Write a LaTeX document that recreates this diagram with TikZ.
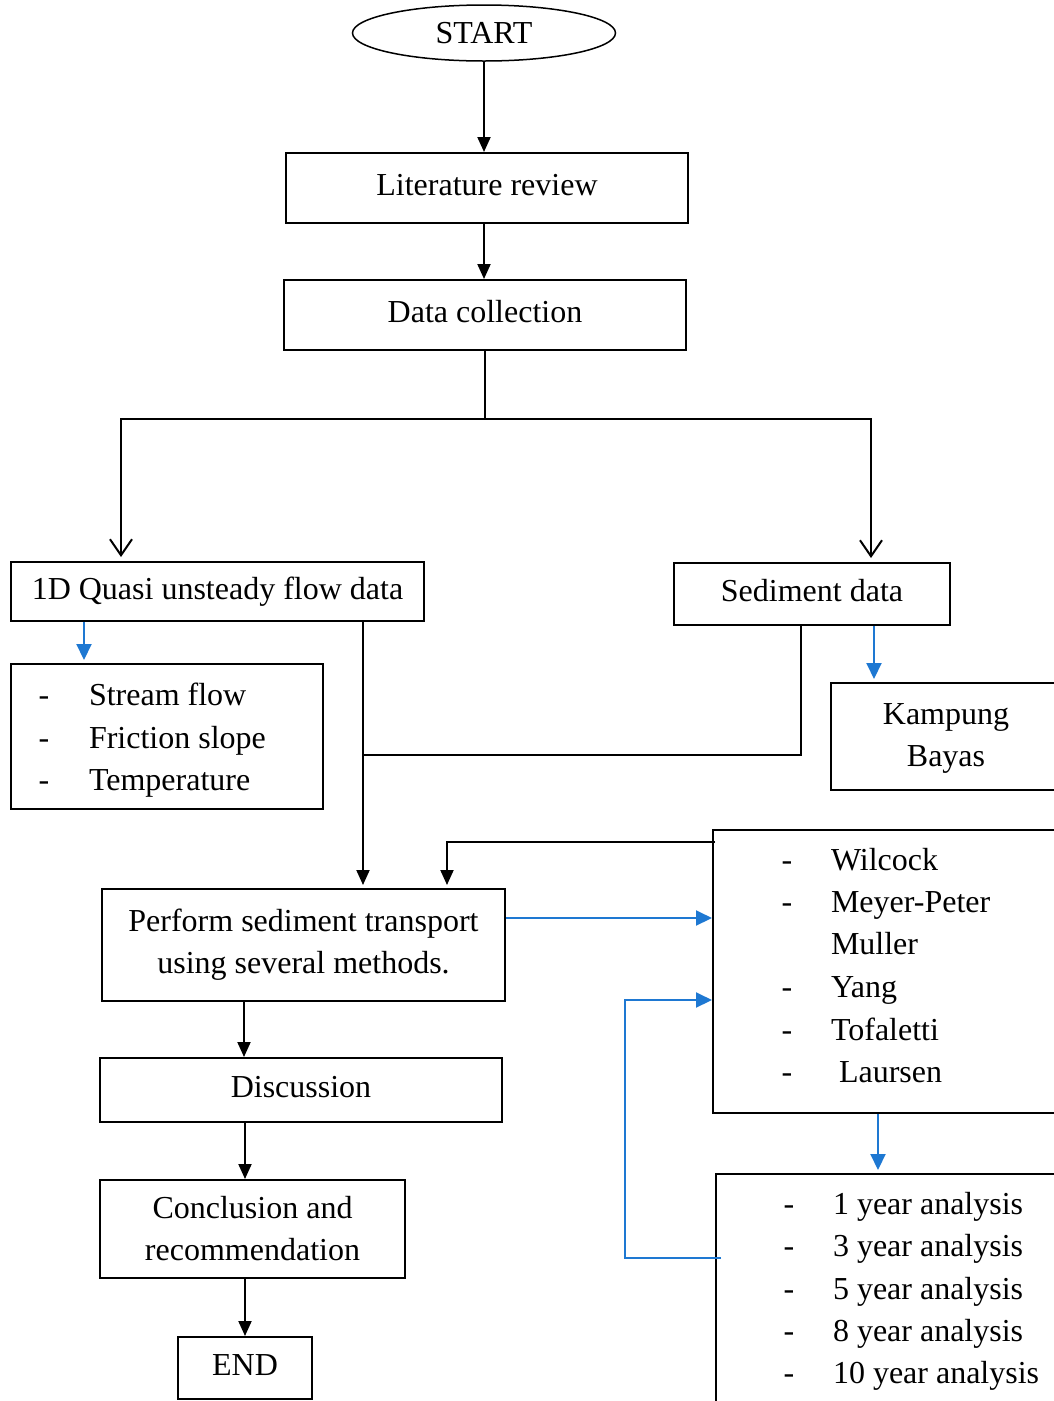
\documentclass[tikz,border=0pt]{standalone}
\usepackage{fontspec}
\setmainfont{Liberation Serif}
\usetikzlibrary{arrows.meta,shapes.geometric}
\definecolor{flowblue}{RGB}{30,120,210}

\begin{document}
\begin{tikzpicture}[x=1pt, y=-1pt, line width=2pt,
        font=\fontsize{32}{42}\selectfont,
        box/.style={draw, rectangle, inner sep=0pt, align=center},
        onerow/.style={text height=22pt, text depth=7pt},
        item/.style={anchor=base west, inner sep=0pt},
        hyph/.style={anchor=base, inner sep=0pt},
        blk/.style={-{Triangle[length=15pt,width=13pt]}},
        blu/.style={flowblue, -{Triangle[length=16pt,width=15pt]}},
        opn/.style={-{Straight Barb[length=16pt,width=22pt]}, shorten >=4pt}]
    \useasboundingbox (0,0) rectangle (1054,1401);
    \clip (0,0) rectangle (1054,1401);

    \node[draw, ellipse, inner sep=0pt, line width=1.5pt, minimum width=263pt, minimum height=56pt] (start) at (484,33) {START};
    \node[box, onerow, minimum width=402pt, minimum height=70pt] (litrev) at (487,188) {Literature review};
    \node[box, onerow, minimum width=402pt, minimum height=70pt] (datacol) at (485,315) {Data collection};
    \node[box, onerow, minimum width=413pt, minimum height=59pt] (quasi) at (217.5,591.5) {1D Quasi unsteady flow data};
    \node[box, onerow, minimum width=276pt, minimum height=62pt] (sediment) at (812,594) {Sediment data};

    \node[box, minimum width=312pt, minimum height=145pt] (params) at (167,736.5) {};
    \node[hyph] at (44,705) {-};
    \node[hyph] at (44,748) {-};
    \node[hyph] at (44,790) {-};
    \node[item] (flow) at (88,705) {Stream flow};
    \node[item] (slope) at (88,748) {Friction slope};
    \node[item] (temp) at (88,790) {Temperature};

    \node[box, minimum width=249pt, minimum height=107pt] (kampung) at (955.5,736.5) {};
    \node[inner sep=0pt, align=center] (site) at (946,738) {Kampung\\Bayas};

    \node[box, minimum width=367pt, minimum height=283pt] (methods) at (896.5,971.5) {};
    \node[hyph] at (787,870) {-};
    \node[hyph] at (787,912) {-};
    \node[hyph] at (787,997) {-};
    \node[hyph] at (787,1040) {-};
    \node[hyph] at (787,1082) {-};
    \node[item] (wil) at (830,870) {Wilcock};
    \node[item] (mpm) at (830,912) {Meyer-Peter};
    \node[item] (mul) at (830,954) {Muller};
    \node[item] (yang) at (830,997) {Yang};
    \node[item] (tof) at (830,1040) {Tofaletti};
    \node[item] (lau) at (838,1082) {Laursen};

    \node[box, minimum width=403pt, minimum height=112pt] (perform) at (303.5,945) {Perform sediment transport\\using several methods.};
    \node[box, onerow, minimum width=402pt, minimum height=64pt] (discuss) at (301,1090) {Discussion};
    \node[box, minimum width=305pt, minimum height=98pt] (concl) at (252.5,1229) {Conclusion and\\recommendation};
    \node[box, onerow, minimum width=134pt, minimum height=62pt] (finish) at (245,1368) {END};

    \node[box, minimum width=364pt, minimum height=256pt] (analysis) at (898,1302) {};
    \node[hyph] at (789,1214) {-};
    \node[hyph] at (789,1256) {-};
    \node[hyph] at (789,1299) {-};
    \node[hyph] at (789,1341) {-};
    \node[hyph] at (789,1383) {-};
    \node[item] (yr1) at (832,1214) {1 year analysis};
    \node[item] (yr3) at (832,1256) {3 year analysis};
    \node[item] (yr5) at (832,1299) {5 year analysis};
    \node[item] (yr8) at (832,1341) {8 year analysis};
    \node[item] (yr10) at (832,1383) {10 year analysis};

    \coordinate (join) at (364,755);

    \draw[blk] (start.south) -- (start.south |- litrev.north);
    \draw[blk] (start.south |- litrev.south) -- (start.south |- datacol.north);
    \draw (datacol.south) -- ++(0,68) coordinate (fork);
    \draw[opn] (fork) -| ([xshift=111pt]quasi.north west);
    \draw[opn] (fork) -| ([xshift=-80pt]sediment.north east);

    \draw[blu, shorten >=3pt] ([xshift=74pt]quasi.south west) -- ([xshift=74pt]params.north west);
    \draw[blu, shorten >=3pt] ([xshift=201pt]sediment.south west) -- ([xshift=201pt]sediment.south west |- kampung.north);
    \draw[blk, shorten >=3pt] ([xshift=353pt]quasi.south west) -- ([xshift=353pt]quasi.south west |- perform.north);
    \draw ([xshift=128pt]sediment.south west) |- (join);
    \draw[blk, shorten >=3pt] ([xshift=3pt, yshift=-13pt]methods.north west) -| ([xshift=346pt]perform.north west);

    \draw[blu] ([yshift=-30pt]perform.north east) -- ([yshift=-30pt]perform.north east -| methods.west);
    \draw[blu] ([xshift=6pt, yshift=-85pt]analysis.north west) -- ++(-96,0) |- ([yshift=-171pt]methods.north west);
    \draw[blu, shorten >=3pt] ([xshift=166pt]methods.south west) -- ([xshift=166pt]methods.south west |- analysis.north);

    \draw[blk] ([xshift=143pt]perform.south west) -- ([xshift=143pt]perform.south west |- discuss.north);
    \draw[blk] ([xshift=146pt]discuss.south west) -- ([xshift=146pt]discuss.south west |- concl.north);
    \draw[blk] ([xshift=146pt]concl.south west) -- ([xshift=146pt]concl.south west |- finish.north);
\end{tikzpicture}
\end{document}
